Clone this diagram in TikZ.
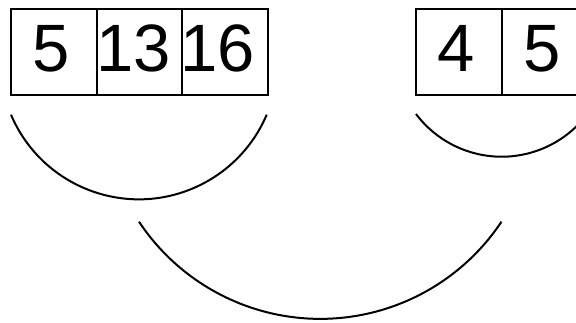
\documentclass[tikz,border=0pt]{standalone}
\usepackage{fontspec}
\setmainfont{Liberation Sans}
\begin{document}
\begin{tikzpicture}[x=1pt,y=-1pt,
  cell/.style={draw,line width=1.8pt,minimum width=85.7pt,minimum height=86pt,inner sep=0pt,anchor=north west},
  num/.style={anchor=base,inner sep=0pt,font=\fontsize{67}{67}\selectfont},
  arcline/.style={line width=2pt}]
\useasboundingbox (0,0) rectangle (576,323);
\clip (0,0) rectangle (576,323);
% first array
\node[cell] (a1) at (10,8) {};
\node[cell] (a2) at (95.7,8) {};
\node[cell] (a3) at (181.4,8) {};
\node[num] (t1) at (51,71.7) {5};
\node[num] (t2) at (134,71.7) {13};
\node[num] (t3) at (218,71.7) {16};
% second array
\node[cell] (b1) at (415,8) {};
\node[cell] (b2) at (501,8) {};
\node[num] (u1) at (456.5,71.7) {4};
\node[num] (u2) at (542,71.7) {5};
% arcs
\draw[arcline] (11,114.7) arc[start angle=157, end angle=23, radius=138.9];
\draw[arcline] (139,221.7) arc[start angle=146.4, end angle=33.6, radius=217.6];
\draw[arcline] (416,114) arc[start angle=143, end angle=37, radius=107.3];
\end{tikzpicture}
\end{document}
